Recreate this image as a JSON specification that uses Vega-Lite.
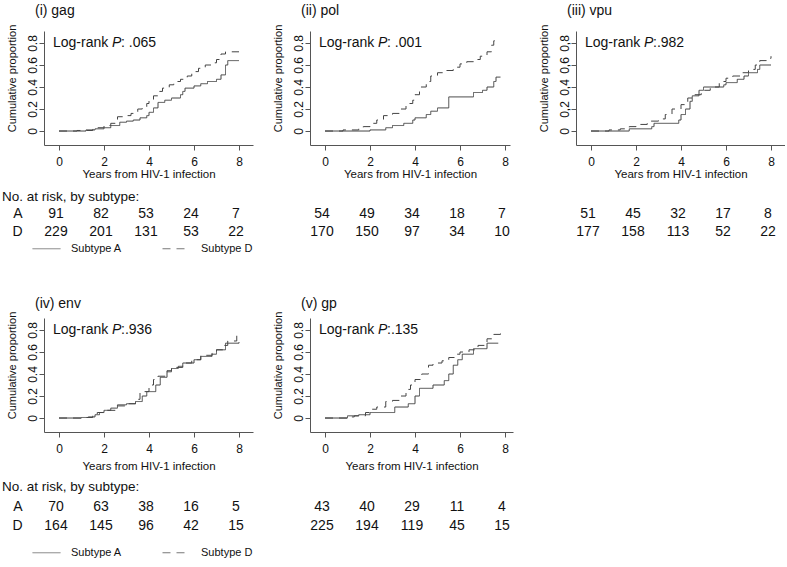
{
  "$schema": "https://vega.github.io/schema/vega-lite/v6.json",
  "padding": {"left": 2, "top": 4, "right": 0, "bottom": 0},
  "background": "white",
  "columns": 3,
  "spacing": {"row": 60, "column": 57},
  "bounds": "flush",
  "align": "each",
  "resolve": {"scale": {"x": "independent", "y": "independent"}, "legend": {"strokeDash": "independent"}},
  "config": {
    "view": {"stroke": null},
    "font": "Liberation Sans",
    "axis": {"grid": false, "domainColor": "#555", "tickColor": "#555", "labelColor": "#111", "titleColor": "#111",
      "labelFont": "Liberation Sans", "titleFont": "Liberation Sans", "labelOverlap": false, "tickCount": 10,
      "labelFontSize": 12, "titleFontSize": 11.5, "titleFontWeight": "normal", "tickSize": 5, "domainWidth": 1, "tickWidth": 1},
    "axisY": {"labelOverlap": false, "tickCount": 10, "labelFontSize": 12, "titleFontSize": 11, "labelAngle": 270, "labelAlign": "center", "labelBaseline": "bottom", "labelPadding": 0, "titlePadding": 9, "titleY": 47},
    "title": {"font": "Liberation Sans", "fontSize": 14, "fontWeight": "normal", "anchor": "start", "frame": "group", "color": "#111", "baseline": "bottom"}
  },
  "datasets": {
    "lr": [
      {"g": "gag", "pv": ": .065"},
      {"g": "pol", "pv": ": .001"},
      {"g": "vpu", "pv": ":.982"},
      {"g": "env", "pv": ":.936"},
      {"g": "gp", "pv": ":.135"}
    ],
    "risk": [
      {"g": "gag", "s": "A", "t": 0, "n": 91}, {"g": "gag", "s": "A", "t": 2, "n": 82}, {"g": "gag", "s": "A", "t": 4, "n": 53}, {"g": "gag", "s": "A", "t": 6, "n": 24}, {"g": "gag", "s": "A", "t": 8, "n": 7},
      {"g": "gag", "s": "D", "t": 0, "n": 229}, {"g": "gag", "s": "D", "t": 2, "n": 201}, {"g": "gag", "s": "D", "t": 4, "n": 131}, {"g": "gag", "s": "D", "t": 6, "n": 53}, {"g": "gag", "s": "D", "t": 8, "n": 22},
      {"g": "pol", "s": "A", "t": 0, "n": 54}, {"g": "pol", "s": "A", "t": 2, "n": 49}, {"g": "pol", "s": "A", "t": 4, "n": 34}, {"g": "pol", "s": "A", "t": 6, "n": 18}, {"g": "pol", "s": "A", "t": 8, "n": 7},
      {"g": "pol", "s": "D", "t": 0, "n": 170}, {"g": "pol", "s": "D", "t": 2, "n": 150}, {"g": "pol", "s": "D", "t": 4, "n": 97}, {"g": "pol", "s": "D", "t": 6, "n": 34}, {"g": "pol", "s": "D", "t": 8, "n": 10},
      {"g": "vpu", "s": "A", "t": 0, "n": 51}, {"g": "vpu", "s": "A", "t": 2, "n": 45}, {"g": "vpu", "s": "A", "t": 4, "n": 32}, {"g": "vpu", "s": "A", "t": 6, "n": 17}, {"g": "vpu", "s": "A", "t": 8, "n": 8},
      {"g": "vpu", "s": "D", "t": 0, "n": 177}, {"g": "vpu", "s": "D", "t": 2, "n": 158}, {"g": "vpu", "s": "D", "t": 4, "n": 113}, {"g": "vpu", "s": "D", "t": 6, "n": 52}, {"g": "vpu", "s": "D", "t": 8, "n": 22},
      {"g": "env", "s": "A", "t": 0, "n": 70}, {"g": "env", "s": "A", "t": 2, "n": 63}, {"g": "env", "s": "A", "t": 4, "n": 38}, {"g": "env", "s": "A", "t": 6, "n": 16}, {"g": "env", "s": "A", "t": 8, "n": 5},
      {"g": "env", "s": "D", "t": 0, "n": 164}, {"g": "env", "s": "D", "t": 2, "n": 145}, {"g": "env", "s": "D", "t": 4, "n": 96}, {"g": "env", "s": "D", "t": 6, "n": 42}, {"g": "env", "s": "D", "t": 8, "n": 15},
      {"g": "gp", "s": "A", "t": 0, "n": 43}, {"g": "gp", "s": "A", "t": 2, "n": 40}, {"g": "gp", "s": "A", "t": 4, "n": 29}, {"g": "gp", "s": "A", "t": 6, "n": 11}, {"g": "gp", "s": "A", "t": 8, "n": 4},
      {"g": "gp", "s": "D", "t": 0, "n": 225}, {"g": "gp", "s": "D", "t": 2, "n": 194}, {"g": "gp", "s": "D", "t": 4, "n": 119}, {"g": "gp", "s": "D", "t": 6, "n": 45}, {"g": "gp", "s": "D", "t": 8, "n": 15}
    ],
    "km": [
      {"g":"gag","s":"A","t":0,"p":0},{"g":"gag","s":"A","t":1.2,"p":0.01},{"g":"gag","s":"A","t":1.6,"p":0.02},{"g":"gag","s":"A","t":2.0,"p":0.03},{"g":"gag","s":"A","t":2.3,"p":0.05},{"g":"gag","s":"A","t":2.7,"p":0.08},{"g":"gag","s":"A","t":3.0,"p":0.09},{"g":"gag","s":"A","t":3.3,"p":0.10},{"g":"gag","s":"A","t":3.6,"p":0.12},{"g":"gag","s":"A","t":3.9,"p":0.14},{"g":"gag","s":"A","t":4.0,"p":0.17},{"g":"gag","s":"A","t":4.2,"p":0.21},{"g":"gag","s":"A","t":4.4,"p":0.26},{"g":"gag","s":"A","t":4.7,"p":0.28},{"g":"gag","s":"A","t":5.0,"p":0.30},{"g":"gag","s":"A","t":5.4,"p":0.33},{"g":"gag","s":"A","t":5.5,"p":0.36},{"g":"gag","s":"A","t":5.6,"p":0.39},{"g":"gag","s":"A","t":6.0,"p":0.41},{"g":"gag","s":"A","t":6.3,"p":0.43},{"g":"gag","s":"A","t":6.6,"p":0.45},{"g":"gag","s":"A","t":7.0,"p":0.47},{"g":"gag","s":"A","t":7.2,"p":0.51},{"g":"gag","s":"A","t":7.4,"p":0.60},{"g":"gag","s":"A","t":7.5,"p":0.64},{"g":"gag","s":"A","t":8.0,"p":0.64},
      {"g":"gag","s":"D","t":0,"p":0},{"g":"gag","s":"D","t":0.8,"p":0.005},{"g":"gag","s":"D","t":1.5,"p":0.015},{"g":"gag","s":"D","t":1.7,"p":0.03},{"g":"gag","s":"D","t":2.0,"p":0.05},{"g":"gag","s":"D","t":2.3,"p":0.07},{"g":"gag","s":"D","t":2.5,"p":0.09},{"g":"gag","s":"D","t":2.6,"p":0.13},{"g":"gag","s":"D","t":2.9,"p":0.14},{"g":"gag","s":"D","t":3.2,"p":0.16},{"g":"gag","s":"D","t":3.5,"p":0.20},{"g":"gag","s":"D","t":3.7,"p":0.22},{"g":"gag","s":"D","t":3.9,"p":0.25},{"g":"gag","s":"D","t":4.0,"p":0.28},{"g":"gag","s":"D","t":4.2,"p":0.32},{"g":"gag","s":"D","t":4.4,"p":0.36},{"g":"gag","s":"D","t":4.6,"p":0.39},{"g":"gag","s":"D","t":4.9,"p":0.42},{"g":"gag","s":"D","t":5.1,"p":0.45},{"g":"gag","s":"D","t":5.4,"p":0.47},{"g":"gag","s":"D","t":5.7,"p":0.50},{"g":"gag","s":"D","t":5.9,"p":0.54},{"g":"gag","s":"D","t":6.2,"p":0.57},{"g":"gag","s":"D","t":6.5,"p":0.60},{"g":"gag","s":"D","t":6.8,"p":0.62},{"g":"gag","s":"D","t":7.0,"p":0.65},{"g":"gag","s":"D","t":7.2,"p":0.70},{"g":"gag","s":"D","t":7.4,"p":0.72},{"g":"gag","s":"D","t":8.0,"p":0.72},
      {"g":"pol","s":"A","t":0,"p":0},{"g":"pol","s":"A","t":2.0,"p":0.01},{"g":"pol","s":"A","t":2.7,"p":0.03},{"g":"pol","s":"A","t":3.0,"p":0.05},{"g":"pol","s":"A","t":3.5,"p":0.07},{"g":"pol","s":"A","t":3.9,"p":0.10},{"g":"pol","s":"A","t":4.0,"p":0.12},{"g":"pol","s":"A","t":4.5,"p":0.15},{"g":"pol","s":"A","t":4.7,"p":0.18},{"g":"pol","s":"A","t":5.0,"p":0.21},{"g":"pol","s":"A","t":5.5,"p":0.31},{"g":"pol","s":"A","t":6.6,"p":0.35},{"g":"pol","s":"A","t":7.0,"p":0.37},{"g":"pol","s":"A","t":7.2,"p":0.40},{"g":"pol","s":"A","t":7.5,"p":0.45},{"g":"pol","s":"A","t":7.6,"p":0.49},{"g":"pol","s":"A","t":7.8,"p":0.49},
      {"g":"pol","s":"D","t":0,"p":0},{"g":"pol","s":"D","t":0.8,"p":0.01},{"g":"pol","s":"D","t":1.5,"p":0.02},{"g":"pol","s":"D","t":1.7,"p":0.04},{"g":"pol","s":"D","t":2.0,"p":0.07},{"g":"pol","s":"D","t":2.3,"p":0.10},{"g":"pol","s":"D","t":2.6,"p":0.14},{"g":"pol","s":"D","t":3.0,"p":0.16},{"g":"pol","s":"D","t":3.3,"p":0.20},{"g":"pol","s":"D","t":3.6,"p":0.25},{"g":"pol","s":"D","t":3.9,"p":0.28},{"g":"pol","s":"D","t":4.0,"p":0.33},{"g":"pol","s":"D","t":4.2,"p":0.40},{"g":"pol","s":"D","t":4.5,"p":0.45},{"g":"pol","s":"D","t":4.7,"p":0.50},{"g":"pol","s":"D","t":5.0,"p":0.53},{"g":"pol","s":"D","t":5.4,"p":0.55},{"g":"pol","s":"D","t":5.7,"p":0.58},{"g":"pol","s":"D","t":6.0,"p":0.61},{"g":"pol","s":"D","t":6.3,"p":0.63},{"g":"pol","s":"D","t":6.6,"p":0.65},{"g":"pol","s":"D","t":6.9,"p":0.68},{"g":"pol","s":"D","t":7.2,"p":0.72},{"g":"pol","s":"D","t":7.4,"p":0.78},{"g":"pol","s":"D","t":7.5,"p":0.82},{"g":"pol","s":"D","t":7.8,"p":0.82},
      {"g":"vpu","s":"A","t":0,"p":0},{"g":"vpu","s":"A","t":1.7,"p":0.02},{"g":"vpu","s":"A","t":2.7,"p":0.04},{"g":"vpu","s":"A","t":2.8,"p":0.07},{"g":"vpu","s":"A","t":3.9,"p":0.10},{"g":"vpu","s":"A","t":4.0,"p":0.15},{"g":"vpu","s":"A","t":4.2,"p":0.20},{"g":"vpu","s":"A","t":4.4,"p":0.27},{"g":"vpu","s":"A","t":4.5,"p":0.32},{"g":"vpu","s":"A","t":4.8,"p":0.37},{"g":"vpu","s":"A","t":5.0,"p":0.40},{"g":"vpu","s":"A","t":5.9,"p":0.42},{"g":"vpu","s":"A","t":6.0,"p":0.44},{"g":"vpu","s":"A","t":6.5,"p":0.47},{"g":"vpu","s":"A","t":6.8,"p":0.50},{"g":"vpu","s":"A","t":7.0,"p":0.53},{"g":"vpu","s":"A","t":7.4,"p":0.56},{"g":"vpu","s":"A","t":7.5,"p":0.60},{"g":"vpu","s":"A","t":8.0,"p":0.60},
      {"g":"vpu","s":"D","t":0,"p":0},{"g":"vpu","s":"D","t":0.8,"p":0.01},{"g":"vpu","s":"D","t":1.3,"p":0.02},{"g":"vpu","s":"D","t":1.7,"p":0.04},{"g":"vpu","s":"D","t":2.0,"p":0.06},{"g":"vpu","s":"D","t":2.5,"p":0.09},{"g":"vpu","s":"D","t":3.0,"p":0.11},{"g":"vpu","s":"D","t":3.3,"p":0.15},{"g":"vpu","s":"D","t":3.6,"p":0.20},{"g":"vpu","s":"D","t":4.0,"p":0.24},{"g":"vpu","s":"D","t":4.3,"p":0.30},{"g":"vpu","s":"D","t":4.6,"p":0.33},{"g":"vpu","s":"D","t":4.9,"p":0.37},{"g":"vpu","s":"D","t":5.3,"p":0.40},{"g":"vpu","s":"D","t":5.7,"p":0.45},{"g":"vpu","s":"D","t":6.0,"p":0.48},{"g":"vpu","s":"D","t":6.3,"p":0.50},{"g":"vpu","s":"D","t":6.7,"p":0.53},{"g":"vpu","s":"D","t":7.0,"p":0.56},{"g":"vpu","s":"D","t":7.3,"p":0.60},{"g":"vpu","s":"D","t":7.5,"p":0.64},{"g":"vpu","s":"D","t":7.8,"p":0.66},{"g":"vpu","s":"D","t":8.0,"p":0.68},
      {"g":"env","s":"A","t":0,"p":0},{"g":"env","s":"A","t":1.0,"p":0.005},{"g":"env","s":"A","t":1.3,"p":0.01},{"g":"env","s":"A","t":1.6,"p":0.03},{"g":"env","s":"A","t":1.8,"p":0.05},{"g":"env","s":"A","t":2.0,"p":0.07},{"g":"env","s":"A","t":2.3,"p":0.09},{"g":"env","s":"A","t":2.6,"p":0.12},{"g":"env","s":"A","t":3.0,"p":0.13},{"g":"env","s":"A","t":3.4,"p":0.15},{"g":"env","s":"A","t":3.7,"p":0.20},{"g":"env","s":"A","t":3.9,"p":0.24},{"g":"env","s":"A","t":4.3,"p":0.30},{"g":"env","s":"A","t":4.5,"p":0.37},{"g":"env","s":"A","t":4.8,"p":0.42},{"g":"env","s":"A","t":5.0,"p":0.45},{"g":"env","s":"A","t":5.3,"p":0.47},{"g":"env","s":"A","t":5.5,"p":0.50},{"g":"env","s":"A","t":6.0,"p":0.53},{"g":"env","s":"A","t":6.3,"p":0.56},{"g":"env","s":"A","t":6.8,"p":0.58},{"g":"env","s":"A","t":7.0,"p":0.62},{"g":"env","s":"A","t":7.4,"p":0.68},{"g":"env","s":"A","t":8.0,"p":0.69},
      {"g":"env","s":"D","t":0,"p":0},{"g":"env","s":"D","t":1.0,"p":0.005},{"g":"env","s":"D","t":1.5,"p":0.03},{"g":"env","s":"D","t":1.7,"p":0.05},{"g":"env","s":"D","t":2.0,"p":0.07},{"g":"env","s":"D","t":2.5,"p":0.11},{"g":"env","s":"D","t":3.0,"p":0.13},{"g":"env","s":"D","t":3.4,"p":0.17},{"g":"env","s":"D","t":3.6,"p":0.24},{"g":"env","s":"D","t":4.0,"p":0.30},{"g":"env","s":"D","t":4.2,"p":0.35},{"g":"env","s":"D","t":4.4,"p":0.38},{"g":"env","s":"D","t":4.8,"p":0.43},{"g":"env","s":"D","t":5.0,"p":0.46},{"g":"env","s":"D","t":5.5,"p":0.50},{"g":"env","s":"D","t":5.9,"p":0.53},{"g":"env","s":"D","t":6.3,"p":0.57},{"g":"env","s":"D","t":6.8,"p":0.59},{"g":"env","s":"D","t":7.0,"p":0.62},{"g":"env","s":"D","t":7.3,"p":0.66},{"g":"env","s":"D","t":7.5,"p":0.70},{"g":"env","s":"D","t":7.9,"p":0.75},{"g":"env","s":"D","t":8.0,"p":0.75},
      {"g":"gp","s":"A","t":0,"p":0},{"g":"gp","s":"A","t":1.0,"p":0.02},{"g":"gp","s":"A","t":1.5,"p":0.03},{"g":"gp","s":"A","t":2.0,"p":0.05},{"g":"gp","s":"A","t":3.1,"p":0.10},{"g":"gp","s":"A","t":3.7,"p":0.13},{"g":"gp","s":"A","t":4.0,"p":0.20},{"g":"gp","s":"A","t":4.2,"p":0.27},{"g":"gp","s":"A","t":4.8,"p":0.30},{"g":"gp","s":"A","t":5.3,"p":0.34},{"g":"gp","s":"A","t":5.5,"p":0.40},{"g":"gp","s":"A","t":5.7,"p":0.48},{"g":"gp","s":"A","t":5.9,"p":0.53},{"g":"gp","s":"A","t":6.1,"p":0.58},{"g":"gp","s":"A","t":6.6,"p":0.63},{"g":"gp","s":"A","t":7.2,"p":0.68},{"g":"gp","s":"A","t":7.7,"p":0.68},
      {"g":"gp","s":"D","t":0,"p":0},{"g":"gp","s":"D","t":1.0,"p":0.01},{"g":"gp","s":"D","t":1.3,"p":0.02},{"g":"gp","s":"D","t":1.8,"p":0.05},{"g":"gp","s":"D","t":2.0,"p":0.08},{"g":"gp","s":"D","t":2.3,"p":0.10},{"g":"gp","s":"D","t":2.7,"p":0.15},{"g":"gp","s":"D","t":3.0,"p":0.16},{"g":"gp","s":"D","t":3.3,"p":0.20},{"g":"gp","s":"D","t":3.6,"p":0.26},{"g":"gp","s":"D","t":3.8,"p":0.30},{"g":"gp","s":"D","t":4.0,"p":0.35},{"g":"gp","s":"D","t":4.3,"p":0.40},{"g":"gp","s":"D","t":4.6,"p":0.48},{"g":"gp","s":"D","t":4.8,"p":0.50},{"g":"gp","s":"D","t":5.2,"p":0.52},{"g":"gp","s":"D","t":5.5,"p":0.55},{"g":"gp","s":"D","t":5.8,"p":0.58},{"g":"gp","s":"D","t":6.0,"p":0.60},{"g":"gp","s":"D","t":6.4,"p":0.62},{"g":"gp","s":"D","t":6.8,"p":0.66},{"g":"gp","s":"D","t":7.2,"p":0.72},{"g":"gp","s":"D","t":7.5,"p":0.76},{"g":"gp","s":"D","t":7.8,"p":0.78},{"g":"gp","s":"D","t":7.9,"p":0.78}
    ]
  },
  "concat": [
    {
      "width": 209, "height": 114,
      "title": {"text": "(i) gag", "dx": -9, "offset": 6},
      "layer": [
        {"data": {"name": "km"}, "transform": [{"filter": "datum.g == 'gag'"}],
          "mark": {"type": "line", "interpolate": "step-after", "strokeWidth": 1, "color": "#444"},
          "encoding": {
            "x": {"field": "t", "type": "quantitative", "scale": {"domain": [-0.667, 8.622], "nice": false, "zero": false}, "axis": {"values": [0, 2, 4, 6, 8], "format": "d", "labelPadding": 6, "titlePadding": 1}, "title": "Years from HIV-1 infection"},
            "y": {"field": "p", "type": "quantitative", "scale": {"domain": [-0.127, 0.909], "nice": false, "zero": false}, "axis": {"values": [0, 0.2, 0.4, 0.6, 0.8], "tickCount": 10, "labelOverlap": false, "labelExpr": "datum.value == 0 ? '0' : format(datum.value, '.1f')"}, "title": "Cumulative proportion"},
            "strokeDash": {"field": "s", "type": "nominal", "scale": {"domain": ["A", "D"], "range": [[1, 0], [8, 6]]},
              "legend": {"orient": "none", "legendX": -12, "legendY": 203, "direction": "horizontal", "title": null, "symbolType": "stroke", "symbolSize": 784, "symbolStrokeWidth": 1, "symbolStrokeColor": "#777", "labelFont": "Liberation Sans", "labelFontSize": 11, "labelColor": "#111", "labelOffset": 10, "columnPadding": 38, "padding": 0, "labelExpr": "'Subtype ' + datum.label"}}
          }},
        {"data": {"name": "lr"}, "transform": [{"filter": "datum.g == 'gag'"}], "mark": {"type": "text", "align": "left", "baseline": "middle", "fontSize": 14, "color": "#111"}, "encoding": {"x": {"datum": -0.267}, "y": {"datum": 0.8}, "text": {"value": "Log-rank"}}},
        {"data": {"name": "lr"}, "transform": [{"filter": "datum.g == 'gag'"}], "mark": {"type": "text", "align": "left", "baseline": "middle", "fontSize": 14, "fontStyle": "italic", "color": "#111", "dx": 59}, "encoding": {"x": {"datum": -0.267}, "y": {"datum": 0.8}, "text": {"value": "P"}}},
        {"data": {"name": "lr"}, "transform": [{"filter": "datum.g == 'gag'"}], "mark": {"type": "text", "align": "left", "baseline": "middle", "fontSize": 14, "color": "#111", "dx": 68}, "encoding": {"x": {"datum": -0.267}, "y": {"datum": 0.8}, "text": {"field": "pv"}}}
      ]
    },
    {
      "width": 200, "height": 114,
      "title": {"text": "(ii) pol", "dx": -9, "offset": 6},
      "layer": [
        {"data": {"name": "km"}, "transform": [{"filter": "datum.g == 'pol'"}],
          "mark": {"type": "line", "interpolate": "step-after", "strokeWidth": 1, "color": "#444"},
          "encoding": {
            "x": {"field": "t", "type": "quantitative", "scale": {"domain": [-0.667, 8.222], "nice": false, "zero": false}, "axis": {"values": [0, 2, 4, 6, 8], "format": "d", "labelPadding": 6, "titlePadding": 1}, "title": "Years from HIV-1 infection"},
            "y": {"field": "p", "type": "quantitative", "scale": {"domain": [-0.127, 0.909], "nice": false, "zero": false}, "axis": {"values": [0, 0.2, 0.4, 0.6, 0.8], "tickCount": 10, "labelOverlap": false, "labelExpr": "datum.value == 0 ? '0' : format(datum.value, '.1f')"}, "title": "Cumulative proportion"},
            "strokeDash": {"field": "s", "type": "nominal", "scale": {"domain": ["A", "D"], "range": [[1, 0], [8, 6]]}, "legend": null}
          }},
        {"data": {"name": "lr"}, "transform": [{"filter": "datum.g == 'pol'"}], "mark": {"type": "text", "align": "left", "baseline": "middle", "fontSize": 14, "color": "#111"}, "encoding": {"x": {"datum": -0.267}, "y": {"datum": 0.8}, "text": {"value": "Log-rank"}}},
        {"data": {"name": "lr"}, "transform": [{"filter": "datum.g == 'pol'"}], "mark": {"type": "text", "align": "left", "baseline": "middle", "fontSize": 14, "fontStyle": "italic", "color": "#111", "dx": 59}, "encoding": {"x": {"datum": -0.267}, "y": {"datum": 0.8}, "text": {"value": "P"}}},
        {"data": {"name": "lr"}, "transform": [{"filter": "datum.g == 'pol'"}], "mark": {"type": "text", "align": "left", "baseline": "middle", "fontSize": 14, "color": "#111", "dx": 68}, "encoding": {"x": {"datum": -0.267}, "y": {"datum": 0.8}, "text": {"field": "pv"}}}
      ]
    },
    {
      "width": 209, "height": 114,
      "title": {"text": "(iii) vpu", "dx": -9, "offset": 6},
      "layer": [
        {"data": {"name": "km"}, "transform": [{"filter": "datum.g == 'vpu'"}],
          "mark": {"type": "line", "interpolate": "step-after", "strokeWidth": 1, "color": "#444"},
          "encoding": {
            "x": {"field": "t", "type": "quantitative", "scale": {"domain": [-0.667, 8.622], "nice": false, "zero": false}, "axis": {"values": [0, 2, 4, 6, 8], "format": "d", "labelPadding": 6, "titlePadding": 1}, "title": "Years from HIV-1 infection"},
            "y": {"field": "p", "type": "quantitative", "scale": {"domain": [-0.127, 0.909], "nice": false, "zero": false}, "axis": {"values": [0, 0.2, 0.4, 0.6, 0.8], "tickCount": 10, "labelOverlap": false, "labelExpr": "datum.value == 0 ? '0' : replace(format(datum.value, '.1f'), '.', ',')"}, "title": "Cumulative proportion"},
            "strokeDash": {"field": "s", "type": "nominal", "scale": {"domain": ["A", "D"], "range": [[1, 0], [8, 6]]}, "legend": null}
          }},
        {"data": {"name": "lr"}, "transform": [{"filter": "datum.g == 'vpu'"}], "mark": {"type": "text", "align": "left", "baseline": "middle", "fontSize": 14, "color": "#111"}, "encoding": {"x": {"datum": -0.267}, "y": {"datum": 0.8}, "text": {"value": "Log-rank"}}},
        {"data": {"name": "lr"}, "transform": [{"filter": "datum.g == 'vpu'"}], "mark": {"type": "text", "align": "left", "baseline": "middle", "fontSize": 14, "fontStyle": "italic", "color": "#111", "dx": 59}, "encoding": {"x": {"datum": -0.267}, "y": {"datum": 0.8}, "text": {"value": "P"}}},
        {"data": {"name": "lr"}, "transform": [{"filter": "datum.g == 'vpu'"}], "mark": {"type": "text", "align": "left", "baseline": "middle", "fontSize": 14, "color": "#111", "dx": 68}, "encoding": {"x": {"datum": -0.267}, "y": {"datum": 0.8}, "text": {"field": "pv"}}}
      ]
    },
    {
      "width": 209, "height": 53,
      "title": {"text": "No. at risk, by subtype:", "dx": -42, "offset": 2, "fontSize": 13.5},
      "data": {"name": "risk"}, "transform": [{"filter": "datum.g == 'gag'"}],
      "mark": {"type": "text", "fontSize": 14, "color": "#111", "dx": -3, "baseline": "middle"},
      "encoding": {
        "x": {"field": "t", "type": "quantitative", "scale": {"domain": [-0.667, 8.622], "nice": false, "zero": false}, "axis": null},
        "y": {"field": "s", "type": "nominal", "scale": {"type": "point", "domain": ["A", "D"], "padding": 1.06, "align": 0.25}, "axis": {"title": null, "domain": false, "ticks": false, "tickSize": 0, "labelAngle": 0, "labelAlign": "right", "labelBaseline": "middle", "labelPadding": 22, "labelFont": "Liberation Sans", "labelFontSize": 14, "labelColor": "#111"}},
        "text": {"field": "n", "type": "quantitative"}
      }
    },
    {
      "width": 209, "height": 53,
      "data": {"name": "risk"}, "transform": [{"filter": "datum.g == 'pol'"}],
      "mark": {"type": "text", "fontSize": 14, "color": "#111", "dx": -3, "baseline": "middle"},
      "encoding": {
        "x": {"field": "t", "type": "quantitative", "scale": {"domain": [-0.667, 8.622], "nice": false, "zero": false}, "axis": null},
        "y": {"field": "s", "type": "nominal", "scale": {"type": "point", "domain": ["A", "D"], "padding": 1.06, "align": 0.25}, "axis": null},
        "text": {"field": "n", "type": "quantitative"}
      }
    },
    {
      "width": 209, "height": 53,
      "data": {"name": "risk"}, "transform": [{"filter": "datum.g == 'vpu'"}],
      "mark": {"type": "text", "fontSize": 14, "color": "#111", "dx": -3, "baseline": "middle"},
      "encoding": {
        "x": {"field": "t", "type": "quantitative", "scale": {"domain": [-0.667, 8.622], "nice": false, "zero": false}, "axis": null},
        "y": {"field": "s", "type": "nominal", "scale": {"type": "point", "domain": ["A", "D"], "padding": 1.06, "align": 0.25}, "axis": null},
        "text": {"field": "n", "type": "quantitative"}
      }
    },
    {
      "width": 209, "height": 114,
      "title": {"text": "(iv) env", "dx": -9, "offset": 0},
      "layer": [
        {"data": {"name": "km"}, "transform": [{"filter": "datum.g == 'env'"}],
          "mark": {"type": "line", "interpolate": "step-after", "strokeWidth": 1, "color": "#444"},
          "encoding": {
            "x": {"field": "t", "type": "quantitative", "scale": {"domain": [-0.667, 8.622], "nice": false, "zero": false}, "axis": {"values": [0, 2, 4, 6, 8], "format": "d", "labelPadding": 6, "titlePadding": 6}, "title": "Years from HIV-1 infection"},
            "y": {"field": "p", "type": "quantitative", "scale": {"domain": [-0.127, 0.909], "nice": false, "zero": false}, "axis": {"values": [0, 0.2, 0.4, 0.6, 0.8], "tickCount": 10, "labelOverlap": false, "labelExpr": "datum.value == 0 ? '0' : format(datum.value, '.1f')"}, "title": "Cumulative proportion"},
            "strokeDash": {"field": "s", "type": "nominal", "scale": {"domain": ["A", "D"], "range": [[1, 0], [8, 6]]},
              "legend": {"orient": "none", "legendX": -12, "legendY": 220, "direction": "horizontal", "title": null, "symbolType": "stroke", "symbolSize": 784, "symbolStrokeWidth": 1, "symbolStrokeColor": "#777", "labelFont": "Liberation Sans", "labelFontSize": 11, "labelColor": "#111", "labelOffset": 10, "columnPadding": 38, "padding": 0, "labelExpr": "'Subtype ' + datum.label"}}
          }},
        {"data": {"name": "lr"}, "transform": [{"filter": "datum.g == 'env'"}], "mark": {"type": "text", "align": "left", "baseline": "middle", "fontSize": 14, "color": "#111"}, "encoding": {"x": {"datum": -0.267}, "y": {"datum": 0.8}, "text": {"value": "Log-rank"}}},
        {"data": {"name": "lr"}, "transform": [{"filter": "datum.g == 'env'"}], "mark": {"type": "text", "align": "left", "baseline": "middle", "fontSize": 14, "fontStyle": "italic", "color": "#111", "dx": 59}, "encoding": {"x": {"datum": -0.267}, "y": {"datum": 0.8}, "text": {"value": "P"}}},
        {"data": {"name": "lr"}, "transform": [{"filter": "datum.g == 'env'"}], "mark": {"type": "text", "align": "left", "baseline": "middle", "fontSize": 14, "color": "#111", "dx": 68}, "encoding": {"x": {"datum": -0.267}, "y": {"datum": 0.8}, "text": {"field": "pv"}}}
      ]
    },
    {
      "width": 203, "height": 114,
      "title": {"text": "(v) gp", "dx": -9, "offset": 0},
      "layer": [
        {"data": {"name": "km"}, "transform": [{"filter": "datum.g == 'gp'"}],
          "mark": {"type": "line", "interpolate": "step-after", "strokeWidth": 1, "color": "#444"},
          "encoding": {
            "x": {"field": "t", "type": "quantitative", "scale": {"domain": [-0.667, 8.355], "nice": false, "zero": false}, "axis": {"values": [0, 2, 4, 6, 8], "format": "d", "labelPadding": 6, "titlePadding": 6}, "title": "Years from HIV-1 infection"},
            "y": {"field": "p", "type": "quantitative", "scale": {"domain": [-0.127, 0.909], "nice": false, "zero": false}, "axis": {"values": [0, 0.2, 0.4, 0.6, 0.8], "tickCount": 10, "labelOverlap": false, "labelExpr": "datum.value == 0 ? '0' : format(datum.value, '.1f')"}, "title": "Cumulative proportion"},
            "strokeDash": {"field": "s", "type": "nominal", "scale": {"domain": ["A", "D"], "range": [[1, 0], [8, 6]]}, "legend": null}
          }},
        {"data": {"name": "lr"}, "transform": [{"filter": "datum.g == 'gp'"}], "mark": {"type": "text", "align": "left", "baseline": "middle", "fontSize": 14, "color": "#111"}, "encoding": {"x": {"datum": -0.267}, "y": {"datum": 0.8}, "text": {"value": "Log-rank"}}},
        {"data": {"name": "lr"}, "transform": [{"filter": "datum.g == 'gp'"}], "mark": {"type": "text", "align": "left", "baseline": "middle", "fontSize": 14, "fontStyle": "italic", "color": "#111", "dx": 59}, "encoding": {"x": {"datum": -0.267}, "y": {"datum": 0.8}, "text": {"value": "P"}}},
        {"data": {"name": "lr"}, "transform": [{"filter": "datum.g == 'gp'"}], "mark": {"type": "text", "align": "left", "baseline": "middle", "fontSize": 14, "color": "#111", "dx": 68}, "encoding": {"x": {"datum": -0.267}, "y": {"datum": 0.8}, "text": {"field": "pv"}}}
      ]
    },
    {
      "width": 209, "height": 114,
      "data": {"values": [{}]},
      "mark": {"type": "point", "opacity": 0}
    },
    {
      "width": 209, "height": 53,
      "title": {"text": "No. at risk, by subtype:", "dx": -42, "offset": -1, "fontSize": 13.5},
      "data": {"name": "risk"}, "transform": [{"filter": "datum.g == 'env'"}],
      "mark": {"type": "text", "fontSize": 14, "color": "#111", "dx": -3, "baseline": "middle"},
      "encoding": {
        "x": {"field": "t", "type": "quantitative", "scale": {"domain": [-0.667, 8.622], "nice": false, "zero": false}, "axis": null},
        "y": {"field": "s", "type": "nominal", "scale": {"type": "point", "domain": ["A", "D"], "padding": 0.895, "align": 0.44}, "axis": {"title": null, "domain": false, "ticks": false, "tickSize": 0, "labelAngle": 0, "labelAlign": "right", "labelBaseline": "middle", "labelPadding": 22, "labelFont": "Liberation Sans", "labelFontSize": 14, "labelColor": "#111"}},
        "text": {"field": "n", "type": "quantitative"}
      }
    },
    {
      "width": 209, "height": 53,
      "data": {"name": "risk"}, "transform": [{"filter": "datum.g == 'gp'"}],
      "mark": {"type": "text", "fontSize": 14, "color": "#111", "dx": -3, "baseline": "middle"},
      "encoding": {
        "x": {"field": "t", "type": "quantitative", "scale": {"domain": [-0.667, 8.622], "nice": false, "zero": false}, "axis": null},
        "y": {"field": "s", "type": "nominal", "scale": {"type": "point", "domain": ["A", "D"], "padding": 0.895, "align": 0.44}, "axis": null},
        "text": {"field": "n", "type": "quantitative"}
      }
    }
  ]
}
